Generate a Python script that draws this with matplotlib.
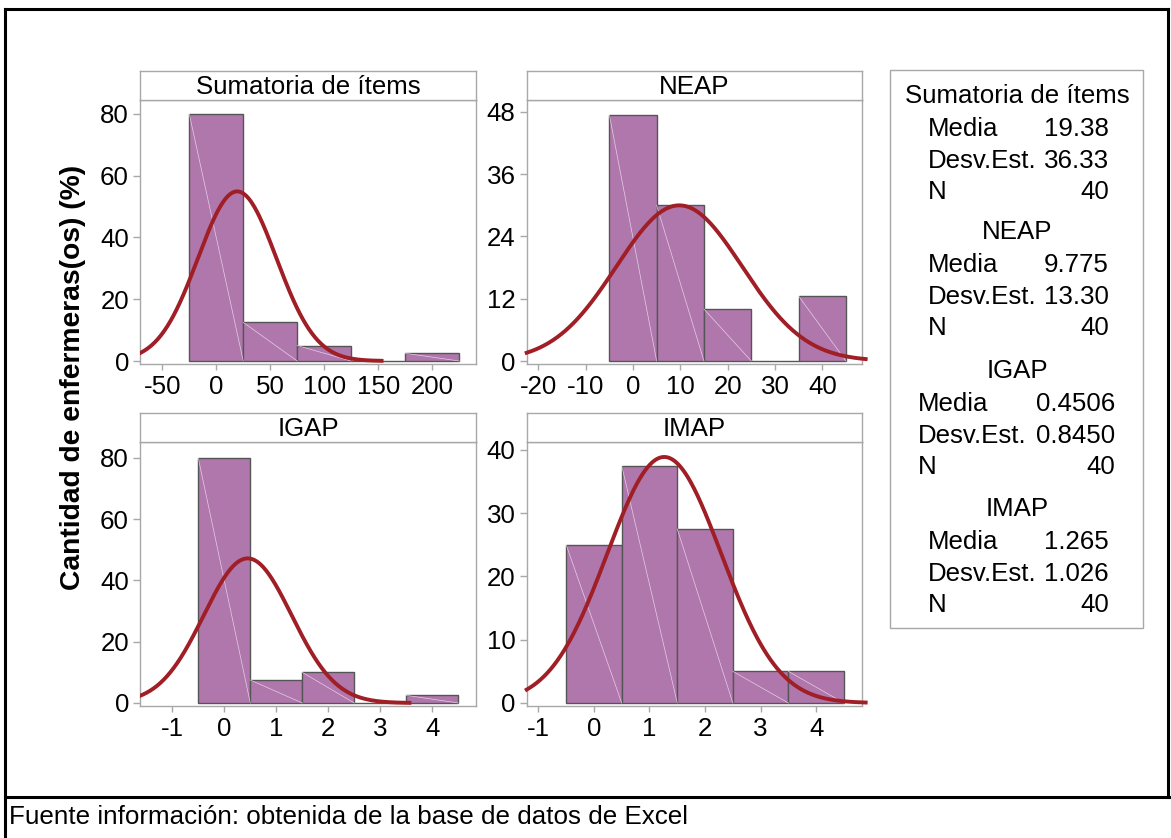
import numpy as np
import matplotlib
matplotlib.use('Agg')
import matplotlib.pyplot as plt
from matplotlib.patches import Rectangle
from matplotlib.lines import Line2D

plt.rcParams['font.family'] = ['Liberation Sans', 'DejaVu Sans']
plt.rcParams['axes.unicode_minus'] = False

# ---------------- data ----------------
titles = ['Sumatoria de ítems', 'NEAP', 'IGAP', 'IMAP']
bin_centers = [[0, 50, 100, 150, 200],
               [0, 10, 20, 30, 40],
               [0, 1, 2, 3, 4],
               [0, 1, 2, 3, 4]]
bin_width = [50, 10, 1, 1]
percent = [[80, 12.5, 5, 0, 2.5],
           [47.5, 30, 10, 0, 12.5],
           [80, 7.5, 10, 0, 2.5],
           [25, 37.5, 27.5, 5, 5]]
means = [19.38, 9.775, 0.4506, 1.265]
sds = [36.33, 13.30, 0.8450, 1.026]
n_obs = [40, 40, 40, 40]
mean_labels = ['19.38', '9.775', '0.4506', '1.265']
sd_labels = ['36.33', '13.30', '0.8450', '1.026']
x_ticks = [[-50, 0, 50, 100, 150, 200],
           [-20, -10, 0, 10, 20, 30, 40],
           [-1, 0, 1, 2, 3, 4],
           [-1, 0, 1, 2, 3, 4]]
y_ticks = [[0, 20, 40, 60, 80],
           [0, 12, 24, 36, 48],
           [0, 20, 40, 60, 80],
           [0, 10, 20, 30, 40]]
ylabel = 'Cantidad de enfermeras(os) (%)'
footer = 'Fuente información: obtenida de la base de datos de Excel'

# ---------------- layout ----------------
W, H = 1171, 838
fig = plt.figure(figsize=(W / 100, H / 100), dpi=100)


def rect(x0, y0, x1, y1):
    return [x0 / W, 1 - y1 / H, (x1 - x0) / W, (y1 - y0) / H]


panels = [(140, 100, 476, 364), (526.7, 100, 862.3, 364),
          (140, 442, 476, 706), (526.7, 442, 862.3, 706)]
strip_h = 29
xlims = [(-70.6, 240.5), (-22.45, 48.45), (-1.62, 4.84), (-1.21, 4.83)]
ytops = [84.5, 50.3, 85.2, 41.25]

GREY = '#A8A8A8'
BAR = '#B077AD'
BAR_EDGE = '#555555'
CURVE = '#A01E25'
FS = 18.6

for i in range(4):
    x0, y0, x1, y1 = panels[i]
    ax = fig.add_axes(rect(x0, y0, x1, y1))
    hpx = y1 - y0
    top = ytops[i]
    low = -3.0 * top / (hpx - 3.0)
    ax.set_ylim(low, top)
    ax.set_xlim(*xlims[i])
    bw = bin_width[i]
    ax.bar(bin_centers[i], percent[i], width=bw, color=BAR,
           edgecolor=BAR_EDGE, linewidth=1.0, zorder=2)
    # faint diagonal artefact lines inside bars
    for c, p in zip(bin_centers[i], percent[i]):
        if p > 0:
            ax.plot([c - bw / 2, c + bw / 2], [p, 0], color='#F2E6F1',
                    lw=0.5, alpha=0.8, zorder=3)
    m, s = means[i], sds[i]
    xa = max(xlims[i][0], m - 3.68 * s)
    xb = min(xlims[i][1] + 0.01 * (xlims[i][1] - xlims[i][0]), m + 3.68 * s)
    xs = np.linspace(xa, xb, 400)
    ys = 100 * bw * np.exp(-0.5 * ((xs - m) / s) ** 2) / (s * np.sqrt(2 * np.pi))
    ax.plot(xs, ys, color=CURVE, lw=2.8, zorder=4,
            clip_on=False if xb > xlims[i][1] else True)
    ax.set_xticks(x_ticks[i])
    ax.set_yticks(y_ticks[i])
    for sp in ax.spines.values():
        sp.set_color(GREY)
        sp.set_linewidth(1.0)
    ax.tick_params(axis='both', direction='out', color=GREY, labelsize=FS,
                   labelcolor='black', width=1.0)
    ax.tick_params(axis='x', length=4, pad=4)
    ax.tick_params(axis='y', length=5, pad=3)
    # strip header
    sax = fig.add_axes(rect(x0, y0 - strip_h, x1, y0))
    sax.set_xticks([])
    sax.set_yticks([])
    for sp in sax.spines.values():
        sp.set_color(GREY)
        sp.set_linewidth(1.0)
    sax.text(0.5, 0.45, titles[i], ha='center', va='center', fontsize=FS,
             transform=sax.transAxes)

# y label
fig.text(73 / W, 1 - 377 / H, ylabel, rotation=90, ha='center', va='center',
         fontsize=20.3, fontweight='bold')

# legend box
fig.patches.append(Rectangle((890 / W, 1 - 628 / H), (1143 - 890) / W, (628 - 70) / H,
                             transform=fig.transFigure, facecolor='white',
                             edgecolor=GREY, linewidth=1.0))
head_y = [96, 232, 371, 509]
cx = 1017
for i in range(4):
    hy = head_y[i]
    if i == 2:
        lx, rx = 918, 1115
    else:
        lx, rx = 928, 1109
    fig.text(cx / W, 1 - hy / H, titles[i], ha='center', va='center', fontsize=FS)
    rows = [('Media', mean_labels[i]), ('Desv.Est.', sd_labels[i]), ('N', str(n_obs[i]))]
    for k, (lab, val) in enumerate(rows):
        yy = hy + 33 + 31.5 * k
        fig.text(lx / W, 1 - yy / H, lab, ha='left', va='center', fontsize=FS)
        fig.text(rx / W, 1 - yy / H, val, ha='right', va='center', fontsize=FS)

# footer and outer frame
fig.add_artist(Line2D([5.5 / W, 1], [1 - 797 / H, 1 - 797 / H], color='black', lw=2.2,
                      transform=fig.transFigure))
fig.add_artist(Line2D([5.5 / W, 5.5 / W], [0, 1 - 9 / H], color='black', lw=2.2,
                      transform=fig.transFigure))
fig.add_artist(Line2D([5.5 / W, 1168 / W], [1 - 9 / H, 1 - 9 / H], color='black', lw=2.2,
                      transform=fig.transFigure))
fig.add_artist(Line2D([1168 / W, 1168 / W], [1 - 9 / H, 1 - 797 / H], color='black', lw=2.2,
                      transform=fig.transFigure))
fig.text(9 / W, 1 - 817 / H, footer, ha='left', va='center', fontsize=18.7)

fig.savefig('out.png', dpi=100)
